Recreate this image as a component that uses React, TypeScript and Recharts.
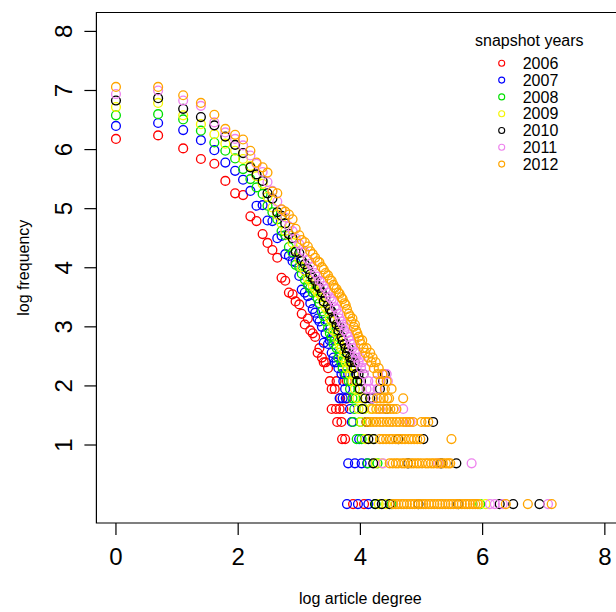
import React from 'react';
import { ScatterChart, Scatter, XAxis, YAxis, ReferenceArea, Label } from 'recharts';

type Pt = [number, number];

const YEARS = ['2006', '2007', '2008', '2009', '2010', '2011', '2012'];
const COLORS = ['#ff0000', '#0000ff', '#00e000', '#f5f500', '#000000', '#ee82ee', '#ffa500'];
const X_TICKS = [0, 2, 4, 6, 8];
const Y_TICKS = [1, 2, 3, 4, 5, 6, 7, 8];

// [log degree, log frequency]
const s2006: Pt[] = [
  [0, 6.18], [0.69, 6.24], [1.1, 6.02], [1.39, 5.84], [1.61, 5.76], [1.79, 5.47], [1.95, 5.26], [2.08, 5.23],
  [2.2, 4.87], [2.3, 4.79], [2.4, 4.57], [2.48, 4.42], [2.56, 4.3], [2.64, 4.17], [2.71, 3.83], [2.77, 3.78],
  [2.83, 3.58], [2.89, 3.55], [2.94, 3.43], [3.0, 3.38], [3.04, 3.22], [3.09, 3.04], [3.14, 3.14], [3.18, 2.94],
  [3.22, 2.89], [3.26, 2.83], [3.3, 2.56], [3.33, 2.64], [3.37, 2.48], [3.4, 2.4], [3.43, 2.4], [3.47, 2.3],
  [3.5, 2.08], [3.53, 1.95], [3.53, 1.61], [3.58, 1.95], [3.6, 1.61], [3.61, 2.08], [3.62, 1.39], [3.66, 1.61],
  [3.67, 1.79], [3.69, 1.39], [3.7, 1.1], [3.72, 1.61], [3.75, 1.1], [3.78, 1.79], [3.78, 2.08],
  [3.88, 0], [4.06, 0],
];

const s2007: Pt[] = [
  [0, 6.4], [0.69, 6.45], [1.1, 6.33], [1.39, 6.16], [1.61, 5.99], [1.79, 5.78], [1.95, 5.64], [2.08, 5.49],
  [2.2, 5.3], [2.3, 5.05], [2.4, 5.06], [2.48, 4.8], [2.56, 4.79], [2.64, 4.5], [2.71, 4.54], [2.77, 4.23],
  [2.83, 4.2], [2.89, 4.11], [2.94, 4.09], [3.0, 3.86], [3.04, 3.63], [3.09, 3.58], [3.14, 3.52], [3.18, 3.4],
  [3.22, 3.3], [3.26, 3.24], [3.3, 3.14], [3.33, 3.09], [3.37, 3.0], [3.4, 2.73], [3.43, 2.89], [3.47, 2.71],
  [3.5, 2.77], [3.53, 2.56], [3.56, 2.48], [3.58, 2.4], [3.61, 2.4], [3.64, 2.3], [3.66, 1.79], [3.69, 2.2],
  [3.71, 1.79], [3.72, 2.08], [3.74, 2.2], [3.75, 1.95], [3.76, 1.79], [3.8, 2.2], [3.83, 1.61], [3.86, 1.39],
  [3.98, 1.1], [3.8, 0.69], [3.91, 0.69], [4.02, 0.69], [4.11, 0.69], [3.78, 0], [3.96, 0], [4.13, 0],
];

const s2008: Pt[] = [
  [0, 6.58], [0.69, 6.6], [1.1, 6.51], [1.39, 6.32], [1.61, 6.12], [1.79, 5.98], [1.95, 5.85], [2.08, 5.67],
  [2.2, 5.5], [2.3, 5.36], [2.4, 5.25], [2.48, 5.05], [2.56, 4.94], [2.64, 4.82], [2.71, 4.62], [2.77, 4.55],
  [2.83, 4.35], [2.89, 4.26], [2.94, 4.05], [3.0, 4.01], [3.04, 3.9], [3.09, 3.8], [3.14, 3.71], [3.18, 3.66],
  [3.22, 3.58], [3.26, 3.6], [3.3, 3.48], [3.33, 3.4], [3.37, 3.26], [3.4, 3.18], [3.43, 3.09], [3.47, 2.98],
  [3.5, 2.89], [3.53, 2.83], [3.56, 2.71], [3.58, 2.77], [3.61, 2.64], [3.64, 2.48], [3.66, 2.56], [3.69, 2.4],
  [3.71, 2.3], [3.74, 2.4], [3.76, 2.2], [3.78, 2.3], [3.81, 2.08], [3.83, 1.95], [3.85, 2.08], [3.87, 1.79],
  [3.88, 1.39], [3.9, 1.61], [3.92, 1.79], [3.94, 1.1], [3.97, 1.95], [4.0, 1.39], [4.02, 1.1], [4.06, 1.61],
  [4.12, 0.69], [4.28, 0.69], [4.25, 0], [4.51, 0], [5.96, 0],
];

const s2009: Pt[] = [
  [0, 6.72], [0.69, 6.79], [1.1, 6.58], [1.39, 6.43], [1.61, 6.26], [1.79, 6.1], [1.95, 5.98], [2.08, 5.84],
  [2.2, 5.72], [2.3, 5.55], [2.4, 5.42], [2.48, 5.2], [2.56, 5.02], [2.64, 4.9], [2.71, 4.75], [2.77, 4.62],
  [2.83, 4.55], [2.89, 4.42], [2.94, 4.3], [3.0, 4.14], [3.04, 4.01], [3.09, 3.95], [3.14, 3.82], [3.18, 3.78],
  [3.22, 3.7], [3.26, 3.64], [3.3, 3.58], [3.33, 3.56], [3.37, 3.5], [3.4, 3.4], [3.43, 3.33], [3.47, 3.26],
  [3.5, 3.14], [3.53, 3.09], [3.56, 2.94], [3.58, 3.0], [3.61, 2.89], [3.64, 2.77], [3.66, 2.71], [3.69, 2.64],
  [3.71, 2.48], [3.74, 2.56], [3.76, 2.4], [3.78, 2.3], [3.81, 2.4], [3.83, 2.2], [3.85, 2.3], [3.87, 2.08],
  [3.89, 2.2], [3.91, 1.95], [3.93, 2.08], [3.95, 1.79], [3.97, 1.61], [3.99, 1.95], [4.01, 1.39], [4.03, 1.79],
  [4.06, 1.61], [4.08, 1.1], [4.12, 1.39], [4.16, 1.61], [4.2, 1.1], [4.25, 0.69], [4.35, 0.69],
  [4.3, 0], [4.42, 0], [5.94, 0], [6.05, 0],
];

const s2010: Pt[] = [
  [0, 6.83], [0.69, 6.87], [1.1, 6.69], [1.39, 6.55], [1.61, 6.41], [1.79, 6.22], [1.95, 6.08], [2.08, 5.94],
  [2.2, 5.7], [2.3, 5.58], [2.4, 5.47], [2.48, 5.26], [2.56, 5.17], [2.64, 4.94], [2.71, 4.88], [2.77, 4.75],
  [2.83, 4.57], [2.89, 4.5], [2.94, 4.27], [3.0, 4.25], [3.04, 4.12], [3.09, 4.06], [3.14, 3.98], [3.18, 3.89],
  [3.22, 3.83], [3.26, 3.78], [3.3, 3.69], [3.33, 3.66], [3.37, 3.58], [3.4, 3.43], [3.43, 3.5], [3.47, 3.37],
  [3.5, 3.3], [3.53, 3.26], [3.56, 3.14], [3.58, 3.12], [3.61, 3.04], [3.64, 2.94], [3.66, 3.0], [3.69, 2.83],
  [3.71, 2.77], [3.74, 2.71], [3.76, 2.64], [3.78, 2.56], [3.81, 2.64], [3.83, 2.48], [3.85, 2.4], [3.87, 2.48],
  [3.89, 2.3], [3.91, 2.4], [3.93, 2.2], [3.95, 2.08], [3.97, 2.2], [3.99, 1.95], [4.01, 2.08], [4.03, 1.61],
  [4.05, 2.2], [4.08, 1.79], [4.1, 1.39], [4.13, 1.1], [4.16, 1.79], [4.2, 1.79], [4.22, 1.1], [4.21, 0.69],
  [4.24, 0], [4.32, 1.95], [4.35, 0], [4.37, 2.08], [4.4, 2.2], [4.43, 1.61], [4.48, 0], [4.62, 1.1],
  [4.78, 0.69], [4.95, 0], [5.03, 1.1], [5.19, 1.39], [5.32, 0.69], [5.57, 0.69], [5.6, 0], [6.28, 0],
  [6.5, 0], [6.93, 0],
];

const s2011: Pt[] = [
  [0, 6.94], [0.69, 7.0], [1.1, 6.83], [1.39, 6.74], [1.61, 6.46], [1.79, 6.29], [1.95, 6.18], [2.08, 6.07],
  [2.2, 5.9], [2.3, 5.76], [2.4, 5.62], [2.48, 5.45], [2.56, 5.3], [2.64, 5.12], [2.71, 4.98], [2.77, 4.85],
  [2.83, 4.7], [2.89, 4.62], [2.94, 4.5], [3.0, 4.4], [3.04, 4.3], [3.09, 4.26], [3.14, 4.14], [3.18, 4.07],
  [3.22, 4.01], [3.26, 3.91], [3.3, 3.85], [3.33, 3.78], [3.37, 3.76], [3.4, 3.69], [3.43, 3.64], [3.47, 3.58],
  [3.5, 3.5], [3.53, 3.47], [3.56, 3.43], [3.58, 3.33], [3.61, 3.3], [3.64, 3.22], [3.66, 3.14], [3.69, 3.09],
  [3.71, 3.04], [3.74, 2.94], [3.76, 3.0], [3.78, 2.89], [3.81, 2.83], [3.83, 2.77], [3.85, 2.71], [3.87, 2.64],
  [3.89, 2.71], [3.91, 2.56], [3.93, 2.48], [3.95, 2.56], [3.97, 2.4], [3.99, 2.48], [4.01, 2.3], [4.03, 2.4],
  [4.05, 2.2], [4.08, 2.3], [4.1, 1.95], [4.13, 2.08], [4.16, 1.95], [4.2, 1.79], [4.24, 2.08], [4.28, 1.95],
  [4.32, 1.61], [4.37, 2.2], [4.37, 0.69], [4.43, 2.2], [4.45, 2.08], [4.7, 1.61], [4.75, 1.39], [4.82, 1.39],
  [5.27, 0.69], [5.82, 0.69], [6.12, 0], [6.2, 0], [6.33, 0], [7.07, 0],
];

const s2012: Pt[] = [
  [0, 7.06], [0.69, 7.06], [1.1, 6.92], [1.39, 6.79], [1.61, 6.59], [1.79, 6.35], [1.95, 6.25], [2.08, 6.17],
  [2.2, 5.98], [2.3, 5.78], [2.4, 5.7], [2.48, 5.61], [2.56, 5.29], [2.64, 5.26], [2.71, 4.99], [2.77, 4.95],
  [2.83, 4.9], [2.89, 4.82], [2.94, 4.66], [3.0, 4.55], [3.04, 4.47], [3.09, 4.43], [3.14, 4.36], [3.18, 4.28],
  [3.22, 4.23], [3.26, 4.17], [3.3, 4.11], [3.33, 4.09], [3.37, 4.01], [3.4, 3.97], [3.43, 3.91], [3.47, 3.87],
  [3.5, 3.81], [3.53, 3.78], [3.56, 3.71], [3.58, 3.66], [3.61, 3.64], [3.64, 3.58], [3.66, 3.56], [3.69, 3.5],
  [3.71, 3.47], [3.74, 3.4], [3.76, 3.37], [3.78, 3.3], [3.81, 3.22], [3.83, 3.18], [3.85, 3.09], [3.87, 3.14],
  [3.89, 3.0], [3.91, 3.04], [3.93, 2.94], [3.95, 2.89], [3.97, 2.83], [3.99, 2.77], [4.01, 2.71], [4.03, 2.77],
  [4.05, 2.64], [4.08, 2.56], [4.1, 2.64], [4.13, 2.48], [4.16, 2.56], [4.18, 2.4], [4.2, 2.48], [4.22, 2.3],
  [4.25, 2.4], [4.28, 2.2], [4.3, 2.3], [4.33, 2.08], [4.36, 2.2], [4.4, 1.95], [4.43, 2.08], [4.47, 1.79],
  [4.51, 1.95],
  [4.27, 1.79], [4.33, 1.79], [4.38, 1.79], [4.44, 1.79], [4.7, 1.79],
  [4.2, 1.61], [4.26, 1.61], [4.31, 1.61], [4.37, 1.61], [4.43, 1.61], [4.49, 1.61], [4.54, 1.61], [4.59, 1.61],
  [4.1, 1.39], [4.16, 1.39], [4.21, 1.39], [4.26, 1.39], [4.32, 1.39], [4.37, 1.39], [4.43, 1.39], [4.48, 1.39],
  [4.53, 1.39], [4.59, 1.39], [4.64, 1.39], [4.7, 1.39], [4.75, 1.39], [4.8, 1.39], [4.86, 1.39], [5.0, 1.39],
  [5.06, 1.39], [5.11, 1.39],
  [4.32, 1.1], [4.37, 1.1], [4.42, 1.1], [4.48, 1.1], [4.52, 1.1], [4.58, 1.1], [4.63, 1.1], [4.68, 1.1],
  [4.73, 1.1], [4.79, 1.1], [4.83, 1.1], [4.88, 1.1], [4.93, 1.1], [4.98, 1.1], [5.49, 1.1],
  [4.48, 0.69], [4.53, 0.69], [4.58, 0.69], [4.62, 0.69], [4.68, 0.69], [4.72, 0.69], [4.77, 0.69], [4.83, 0.69],
  [4.87, 0.69], [4.92, 0.69], [4.96, 0.69], [5.01, 0.69], [5.07, 0.69], [5.11, 0.69], [5.16, 0.69], [5.2, 0.69],
  [5.25, 0.69], [5.3, 0.69], [5.35, 0.69], [5.4, 0.69], [5.44, 0.69], [5.47, 0.69],
  [4.53, 0], [4.58, 0], [4.62, 0], [4.67, 0], [4.71, 0], [4.76, 0], [4.81, 0], [4.85, 0], [4.89, 0], [4.94, 0],
  [4.99, 0], [5.03, 0], [5.07, 0], [5.12, 0], [5.16, 0], [5.21, 0], [5.26, 0], [5.3, 0], [5.34, 0], [5.39, 0],
  [5.44, 0], [5.48, 0], [5.52, 0], [5.57, 0], [5.61, 0], [5.66, 0], [5.71, 0], [5.75, 0], [5.79, 0], [5.84, 0],
  [5.88, 0], [5.92, 0], [6.38, 0], [6.74, 0], [7.13, 0],
];

const SERIES = [s2006, s2007, s2008, s2009, s2010, s2011, s2012];

const FONT = '"Liberation Sans", Arial, Helvetica, sans-serif';
const DOMAIN: [number, number] = [-0.32, 8.32];

const XTick = ({ x, payload }: any) => (
  <text x={x} y={565} textAnchor="middle" fontSize={24} fontFamily={FONT} fill="#000">
    {payload.value}
  </text>
);

const YTick = ({ y, payload }: any) => (
  <text transform={`translate(71.5,${y}) rotate(-90)`} textAnchor="middle" fontSize={24} fontFamily={FONT} fill="#000">
    {payload.value}
  </text>
);

const ring = (color: string) => (props: any) => (
  <circle cx={props.cx} cy={props.cy} r={4.4} fill="none" stroke={color} strokeWidth={1.35} />
);

export default function App() {
  return (
    <div style={{ position: 'absolute', left: 0, top: 0, width: 616, height: 612, overflow: 'hidden', background: '#fff' }}>
      <ScatterChart width={640} height={612} margin={{ top: 12.5, right: 15.6, bottom: 0, left: 0 }}>
        <XAxis
          type="number"
          dataKey="x"
          domain={DOMAIN}
          ticks={X_TICKS}
          interval={0}
          allowDataOverflow
          height={89}
          axisLine={false}
          tickSize={12}
          tickLine={{ stroke: '#000', strokeWidth: 1.2 }}
          tick={XTick}
        >
          <Label
            content={() => (
              <text x={360.4} y={604} textAnchor="middle" fontSize={16} fontFamily={FONT} fill="#000">
                log article degree
              </text>
            )}
          />
        </XAxis>
        <YAxis
          type="number"
          dataKey="y"
          domain={DOMAIN}
          ticks={Y_TICKS}
          interval={0}
          allowDataOverflow
          width={96.4}
          axisLine={false}
          tickSize={12}
          tickLine={{ stroke: '#000', strokeWidth: 1.2 }}
          tick={YTick}
        >
          <Label
            content={() => (
              <text transform="translate(29,267.7) rotate(-90)" textAnchor="middle" fontSize={16} fontFamily={FONT} fill="#000">
                log frequency
              </text>
            )}
          />
        </YAxis>
        <ReferenceArea x1={DOMAIN[0]} x2={DOMAIN[1]} y1={DOMAIN[0]} y2={DOMAIN[1]} fill="none" stroke="#000" strokeWidth={1.2} ifOverflow="visible" />
        {SERIES.map((s, i) => (
          <Scatter
            key={YEARS[i]}
            name={YEARS[i]}
            data={s.map(([x, y]) => ({ x, y }))}
            shape={ring(COLORS[i])}
            isAnimationActive={false}
          />
        ))}
      </ScatterChart>

      {/* legend, top right like R's legend("topright") */}
      <svg width={616} height={612} style={{ position: 'absolute', left: 0, top: 0, pointerEvents: 'none' }}>
        <text x={475} y={46} fontSize={16} fontFamily={FONT} fill="#000">snapshot years</text>
        {YEARS.map((yr, i) => (
          <g key={yr}>
            <circle cx={501.7} cy={63.3 + 16.8 * i} r={3} fill="none" stroke={COLORS[i]} strokeWidth={1.1} />
            <text x={522.7} y={69 + 16.8 * i} fontSize={16} fontFamily={FONT} fill="#000">{yr}</text>
          </g>
        ))}
      </svg>
    </div>
  );
}
